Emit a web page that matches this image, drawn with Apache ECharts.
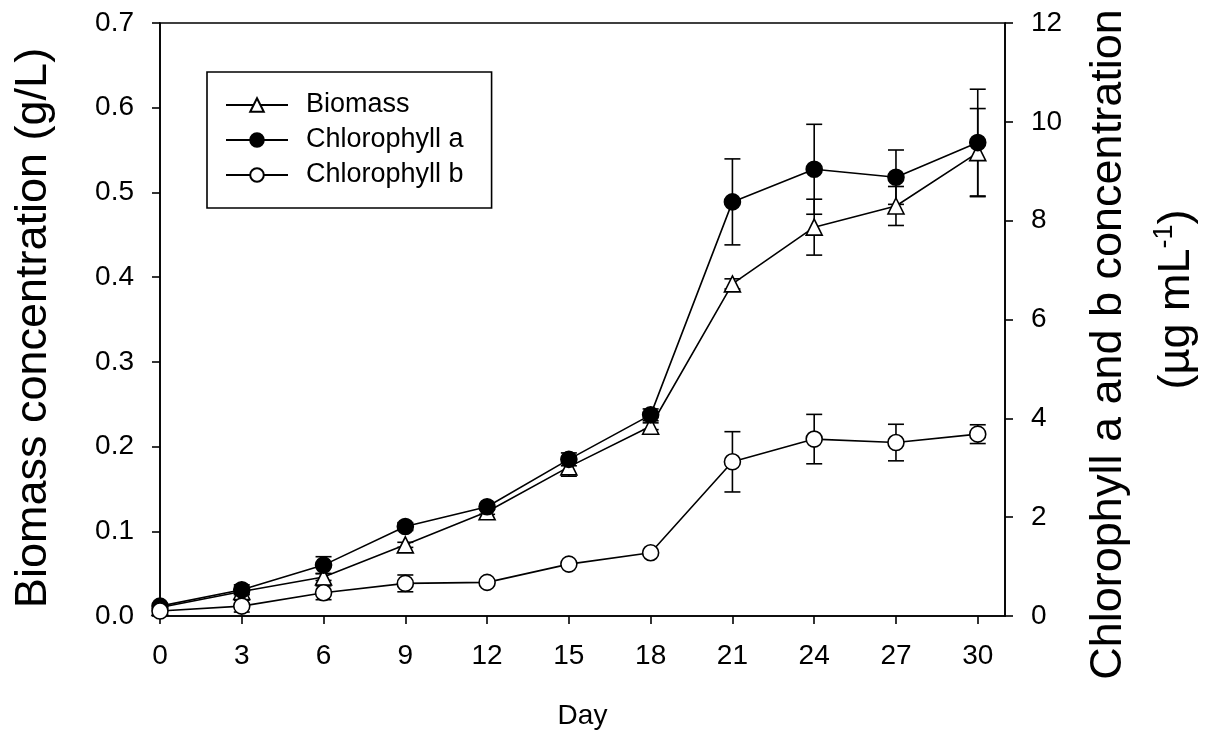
<!DOCTYPE html>
<html>
<head>
<meta charset="utf-8">
<title>Biomass and chlorophyll over time</title>
<script src="https://cdn.jsdelivr.net/npm/echarts@6/dist/echarts.min.js"></script>
<style>
  html, body { margin: 0; padding: 0; background: #fff; }
  #chart { width: 1206px; height: 740px; }
</style>
</head>
<body>
<div id="chart"></div>
<script>
// Sampling days
const days = [0, 3, 6, 9, 12, 15, 18, 21, 24, 27, 30];
const dayTicks = [0, 3, 6, 9, 12, 15, 18, 21, 24, 27, 30];

// Biomass concentration (g/L) and its standard deviation
const biomass    = [0.010, 0.029, 0.046, 0.084, 0.123, 0.176, 0.224, 0.392, 0.459, 0.484, 0.547];
const biomassErr = [0.002, 0.003, 0.004, 0.003, 0.003, 0.011, 0.004, 0.006, 0.033, 0.023, 0.052];

// Chlorophyll a (ug/mL) and its standard deviation
const chlA    = [0.20, 0.53, 1.03, 1.81, 2.21, 3.17, 4.07, 8.38, 9.04, 8.88, 9.58];
const chlAErr = [0.05, 0.10, 0.17, 0.08, 0.05, 0.13, 0.12, 0.87, 0.91, 0.55, 1.08];

// Chlorophyll b (ug/mL) and its standard deviation
const chlB    = [0.10, 0.20, 0.47, 0.66, 0.68, 1.05, 1.28, 3.12, 3.58, 3.51, 3.68];
const chlBErr = [0.03, 0.12, 0.14, 0.17, 0.03, 0.04, 0.04, 0.61, 0.50, 0.37, 0.19];

const FONT = 'Liberation Sans, Arial, Helvetica, sans-serif';
const INK = '#000';

function pairs(vals) {
  return days.map((d, i) => [d, vals[i]]);
}
function errRows(vals, errs) {
  return days.map((d, i) => [d, vals[i] - errs[i], vals[i] + errs[i]]);
}

// Vertical error bar with horizontal caps
function renderErrorBar(params, api) {
  const x = api.value(0);
  const lo = api.coord([x, api.value(1)]);
  const hi = api.coord([x, api.value(2)]);
  const half = 8;
  const style = { stroke: INK, lineWidth: 1.6, fill: null };
  return {
    type: 'group',
    children: [
      { type: 'line', shape: { x1: lo[0], y1: lo[1], x2: hi[0], y2: hi[1] }, style },
      { type: 'line', shape: { x1: lo[0] - half, y1: lo[1], x2: lo[0] + half, y2: lo[1] }, style },
      { type: 'line', shape: { x1: hi[0] - half, y1: hi[1], x2: hi[0] + half, y2: hi[1] }, style }
    ]
  };
}

function errSeries(vals, errs, yIndex) {
  return {
    type: 'custom',
    yAxisIndex: yIndex,
    renderItem: renderErrorBar,
    encode: { x: 0, y: [1, 2] },
    data: errRows(vals, errs),
    z: 1,
    silent: true
  };
}

function lineSeries(name, vals, yIndex, symbol, fill) {
  return {
    name,
    type: 'line',
    yAxisIndex: yIndex,
    data: pairs(vals),
    symbol,
    symbolSize: 16,
    showAllSymbol: true,
    lineStyle: { color: INK, width: 1.6 },
    itemStyle: { color: fill, borderColor: INK, borderWidth: 1.6 },
    z: 3,
    animation: false
  };
}

const tickLabel = { color: INK, fontSize: 28, fontFamily: FONT, margin: 26 };

const option = {
  animation: false,
  backgroundColor: '#fff',
  grid: {
    left: 160, right: 201, top: 23, bottom: 124,
    containLabel: false,
    outerBoundsMode: 'none',
    show: true, borderColor: INK, borderWidth: 1.6, backgroundColor: 'transparent'
  },
  legend: {
    orient: 'vertical',
    left: 207, top: 72,
    padding: [19, 28, 19, 18],
    borderColor: INK, borderWidth: 1.6,
    itemWidth: 62, itemHeight: 17, itemGap: 7,
    selectedMode: false,
    textStyle: { color: INK, fontSize: 27, fontFamily: FONT, lineHeight: 28, padding: [0, 0, 0, 13] },
    data: ['Biomass', 'Chlorophyll a', 'Chlorophyll b']
  },
  xAxis: {
    type: 'value',
    min: 0, max: 31, interval: 3,
    name: 'Day',
    nameLocation: 'middle',
    nameGap: 86,
    nameTextStyle: { color: INK, fontSize: 28, fontFamily: FONT },
    axisLine: { lineStyle: { color: INK, width: 1.6 } },
    axisTick: { show: true, length: 8, lineStyle: { color: INK, width: 1.6 }, customValues: dayTicks },
    axisLabel: Object.assign({ customValues: dayTicks }, tickLabel),
    splitLine: { show: false }
  },
  yAxis: [
    {
      type: 'value',
      position: 'left',
      min: 0, max: 0.7, interval: 0.1,
      name: 'Biomass concentration (g/L)',
      nameLocation: 'middle',
      nameRotate: 90,
      nameGap: 104,
      nameTextStyle: { color: INK, fontSize: 45, fontFamily: FONT, padding: [0, 17, 0, 0] },
      axisLine: { show: true, lineStyle: { color: INK, width: 1.6 } },
      axisTick: { show: true, length: 8, lineStyle: { color: INK, width: 1.6 } },
      axisLabel: Object.assign({ formatter: v => v.toFixed(1) }, tickLabel),
      splitLine: { show: false }
    },
    {
      type: 'value',
      position: 'right',
      min: 0, max: 12, interval: 2,
      name: '{a|Chlorophyll a and b concentration}\n{b|(µg mL}{s|-1}{t|)}',
      nameLocation: 'middle',
      nameRotate: 90,
      nameGap: 70,
      nameTextStyle: {
        color: INK, fontFamily: FONT, align: 'center',
        rich: {
          a: { fontSize: 45, fontFamily: FONT, color: INK, lineHeight: 68, padding: [0, 50, 0, 0] },
          b: { fontSize: 45, fontFamily: FONT, color: INK, lineHeight: 68, padding: [0, 0, 0, 40] },
          t: { fontSize: 45, fontFamily: FONT, color: INK, lineHeight: 68 },
          s: { fontSize: 27, fontFamily: FONT, color: INK, verticalAlign: 'top', lineHeight: 68, padding: [8, 0, 0, 0] }
        }
      },
      axisLine: { show: true, lineStyle: { color: INK, width: 1.6 } },
      axisTick: { show: true, length: 8, lineStyle: { color: INK, width: 1.6 } },
      axisLabel: tickLabel,
      splitLine: { show: false }
    }
  ],
  series: [
    errSeries(biomass, biomassErr, 0),
    errSeries(chlA, chlAErr, 1),
    errSeries(chlB, chlBErr, 1),
    lineSeries('Biomass', biomass, 0, 'triangle', '#fff'),
    lineSeries('Chlorophyll a', chlA, 1, 'circle', INK),
    lineSeries('Chlorophyll b', chlB, 1, 'circle', '#fff')
  ]
};

const chart = echarts.init(document.getElementById('chart'), null, { renderer: 'canvas' });
chart.setOption(option);
</script>
</body>
</html>
